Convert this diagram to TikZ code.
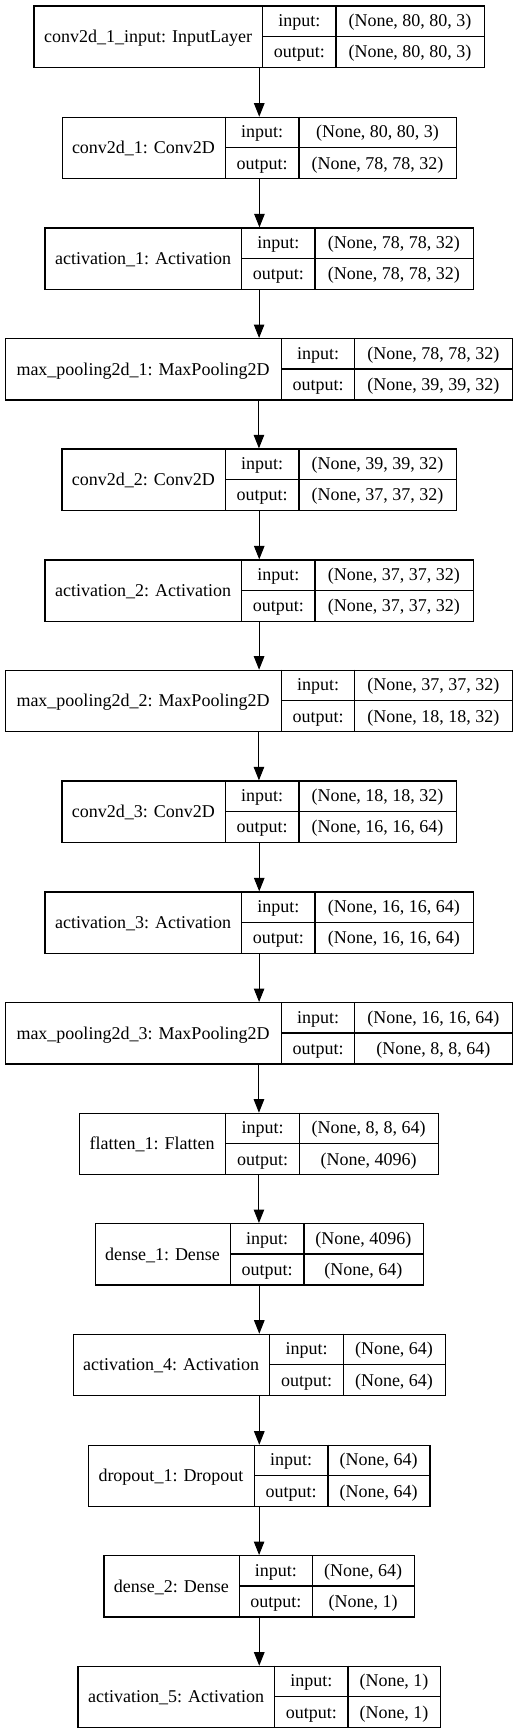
\documentclass[tikz,border=0pt]{standalone}
\usepackage{fontspec}
\setmainfont{Liberation Serif}
\usepackage{xcolor}
\usepackage{tikz}
\usetikzlibrary{arrows.meta}
\definecolor{ink}{HTML}{000000}
\definecolor{paper}{HTML}{FFFFFF}
\tikzset{
  box/.style={draw=ink, line width=1.2pt, inner sep=0pt, minimum height=61.3pt, anchor=north west},
  rule/.style={draw=ink, line width=1.2pt},
  flow/.style={draw=ink, line width=1pt, -{Triangle[length=13.5pt,width=10.5pt]}},
  lab/.style={text=ink, font=\fontsize{18}{22}\selectfont, anchor=base, inner sep=0pt},
}
% #1 node, #2 top, #3 left, #4 #5 inner rules, #6 right, #7 layer, #8 input, #9 output
\newcommand{\layer}[9]{%
  \node[box, minimum width={(#6-#3)*1pt}] (#1) at (#3,#2) {};
  \draw[rule] (#4,#2) -- (#4,{#2+61.3});
  \draw[rule] (#5,#2) -- (#5,{#2+61.3});
  \draw[rule] (#4,{#2+31}) -- (#6,{#2+31});
  \node[lab] (#1-name) at ({(#3+#4)/2},{#2+37}) {#7};
  \node[lab] (#1-in) at ({(#4+#5)/2},{#2+21}) {input:};
  \node[lab] (#1-out) at ({(#4+#5)/2},{#2+52.5}) {output:};
  \node[lab] (#1-inv) at ({(#5+#6)/2},{#2+21}) {#8};
  \node[lab] (#1-outv) at ({(#5+#6)/2},{#2+52.5}) {#9};
}

\begin{document}
\begin{tikzpicture}[x=1pt,y=-1pt]
  \path[fill=paper] (0,0) rectangle (517,1733);

  \layer{inp}{5.3}{33.3}{262.7}{336}{484}{conv2d\_1\_input: InputLayer}{(None, 80, 80, 3)}{(None, 80, 80, 3)}
  \layer{c1}{116.7}{61.7}{225.3}{299}{456}{conv2d\_1: Conv2D}{(None, 80, 80, 3)}{(None, 78, 78, 32)}
  \layer{a1}{227.3}{44.3}{241.7}{315}{472.7}{activation\_1: Activation}{(None, 78, 78, 32)}{(None, 78, 78, 32)}
  \layer{p1}{338}{4.7}{281.3}{354.7}{512}{max\_pooling2d\_1: MaxPooling2D}{(None, 78, 78, 32)}{(None, 39, 39, 32)}
  \layer{c2}{448.3}{61.3}{225.3}{299}{456}{conv2d\_2: Conv2D}{(None, 39, 39, 32)}{(None, 37, 37, 32)}
  \layer{a2}{559.3}{44.3}{241.7}{315}{472.7}{activation\_2: Activation}{(None, 37, 37, 32)}{(None, 37, 37, 32)}
  \layer{p2}{669.7}{4.7}{281.3}{354.7}{512}{max\_pooling2d\_2: MaxPooling2D}{(None, 37, 37, 32)}{(None, 18, 18, 32)}
  \layer{c3}{780.3}{61.3}{225.3}{299}{456}{conv2d\_3: Conv2D}{(None, 18, 18, 32)}{(None, 16, 16, 64)}
  \layer{a3}{891.3}{44.3}{241.7}{315}{472.7}{activation\_3: Activation}{(None, 16, 16, 64)}{(None, 16, 16, 64)}
  \layer{p3}{1002}{4.7}{281.3}{354.7}{512}{max\_pooling2d\_3: MaxPooling2D}{(None, 16, 16, 64)}{(None, 8, 8, 64)}
  \layer{fl}{1112.7}{78.7}{225.7}{299.3}{438}{flatten\_1: Flatten}{(None, 8, 8, 64)}{(None, 4096)}
  \layer{d1}{1223}{94.7}{230.3}{304}{422.7}{dense\_1: Dense}{(None, 4096)}{(None, 64)}
  \layer{a4}{1333.7}{72.7}{269.7}{343.3}{444.7}{activation\_4: Activation}{(None, 64)}{(None, 64)}
  \layer{dr}{1444.7}{87.7}{254.3}{328}{429.3}{dropout\_1: Dropout}{(None, 64)}{(None, 64)}
  \layer{d2}{1555}{103.3}{239.3}{312.3}{414}{dense\_2: Dense}{(None, 64)}{(None, 1)}
  \layer{a5}{1665.7}{77.3}{274.7}{348}{440}{activation\_5: Activation}{(None, 1)}{(None, 1)}

  \draw[flow] (inp.south) -- (inp.south |- c1.north);
  \draw[flow] (c1.south) -- (c1.south |- a1.north);
  \draw[flow] (a1.south) -- (a1.south |- p1.north);
  \draw[flow] (p1.south) -- (p1.south |- c2.north);
  \draw[flow] (c2.south) -- (c2.south |- a2.north);
  \draw[flow] (a2.south) -- (a2.south |- p2.north);
  \draw[flow] (p2.south) -- (p2.south |- c3.north);
  \draw[flow] (c3.south) -- (c3.south |- a3.north);
  \draw[flow] (a3.south) -- (a3.south |- p3.north);
  \draw[flow] (p3.south) -- (p3.south |- fl.north);
  \draw[flow] (fl.south) -- (fl.south |- d1.north);
  \draw[flow] (d1.south) -- (d1.south |- a4.north);
  \draw[flow] (a4.south) -- (a4.south |- dr.north);
  \draw[flow] (dr.south) -- (dr.south |- d2.north);
  \draw[flow] (d2.south) -- (d2.south |- a5.north);
\end{tikzpicture}
\end{document}
